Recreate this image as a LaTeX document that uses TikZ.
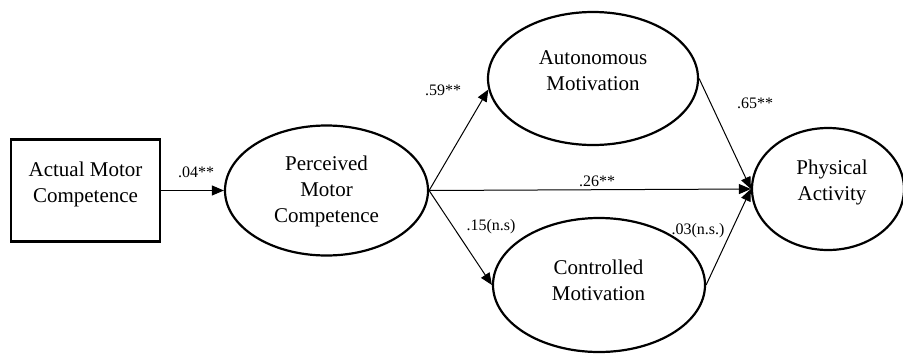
\documentclass[tikz,border=0pt]{standalone}
\usepackage{fontspec}
\setmainfont{Liberation Serif}
\usetikzlibrary{shapes.geometric,arrows.meta}
\begin{document}
\begin{tikzpicture}[x=0.5pt,y=-0.5pt,
  ell/.style={ellipse,draw,line width=1.1pt,inner sep=0pt},
  boxnode/.style={rectangle,draw,line width=1.1pt,inner sep=0pt},
  lbl/.style={font=\fontsize{10.5}{13}\selectfont,align=center,inner sep=0pt},
  coef/.style={font=\fontsize{8}{10}\selectfont,inner sep=0pt},
  conn/.style={-{Triangle[length=6pt,width=5pt]},line width=0.5pt}]
\useasboundingbox (0,0) rectangle (903,354);
% nodes
\node[boxnode,minimum width=74.5pt,minimum height=51pt] (amc) at (85.5,190.5) {};
\node[lbl] (amcT) at (85.5,184) {Actual Motor\\Competence};
\node[ell,minimum width=101.5pt,minimum height=65pt] (pmc) at (326.5,190.5) {};
\node[lbl] (pmcT) at (326.5,191.5) {Perceived\\Motor\\Competence};
\node[ell,minimum width=105pt,minimum height=66.5pt] (am) at (593,78.5) {};
\node[lbl] (amT) at (593,71) {Autonomous\\Motivation};
\node[ell,minimum width=106pt,minimum height=67pt] (cm) at (599,285) {};
\node[lbl] (cmT) at (598.5,280) {Controlled\\Motivation};
\node[ell,minimum width=76pt,minimum height=61pt] (pa) at (828,189) {};
\node[lbl] (paT) at (832,182) {Physical\\Activity};
% connectors
\draw[conn] (amc.east) -- (pmc.west);
\draw[conn] (pmc.east) -- (am.186);
\draw[conn] (pmc.east) -- (pa.west);
\draw[conn] (pmc.east) -- (cm.west);
\draw[conn] (am.east) -- (pa.west);
\draw[conn] (cm.east) -- (pa.west);
% coefficients
\node[coef] (c1) at (196,172) {.04**};
\node[coef] (c2) at (443,90) {.59**};
\node[coef] (c3) at (755,103) {.65**};
\node[coef] (c4) at (597,181) {.26**};
\node[coef] (c5) at (491,227) {.15(n.s)};
\node[coef] (c6) at (698,231) {.03(n.s.)};
\end{tikzpicture}
\end{document}
